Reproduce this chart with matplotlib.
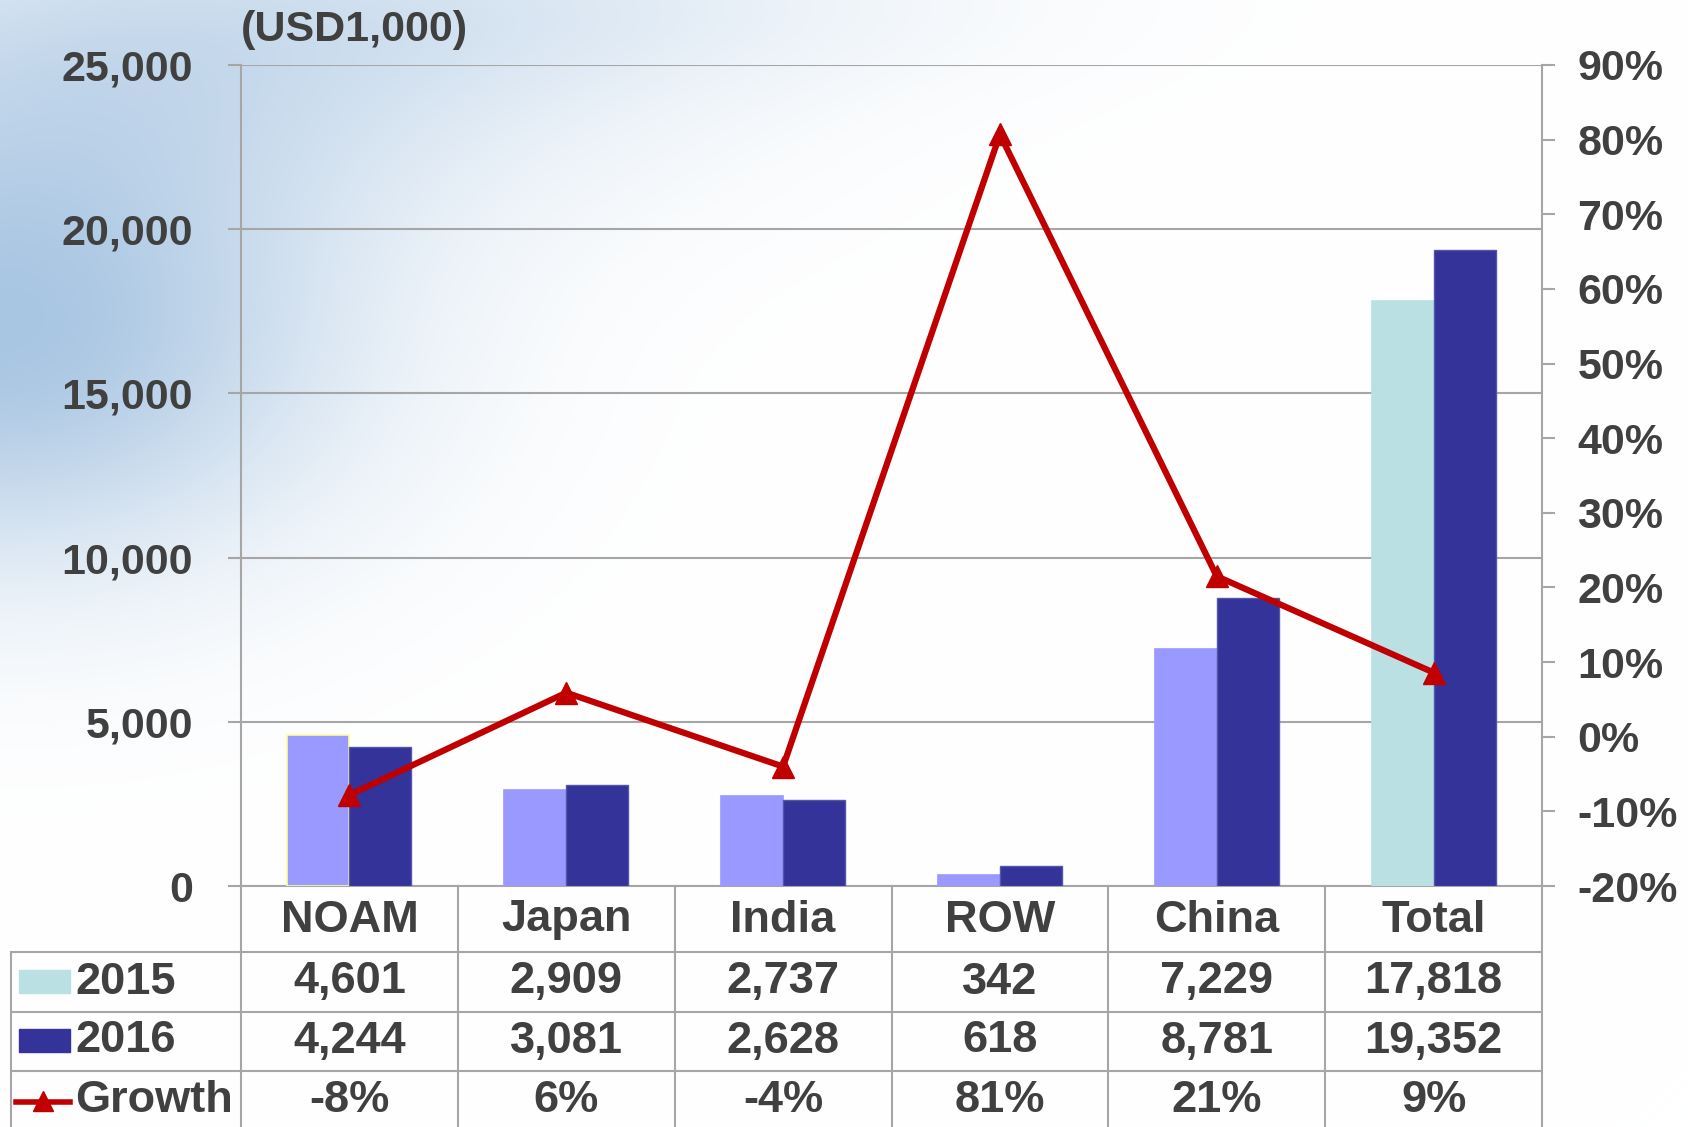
import numpy as np
import matplotlib.pyplot as plt
from matplotlib.patches import Rectangle
from matplotlib.lines import Line2D
from matplotlib.ticker import FuncFormatter, MultipleLocator

categories = ['NOAM', 'Japan', 'India', 'ROW', 'China', 'Total']
sales_2015 = [4601, 2909, 2737, 342, 7229, 17818]
sales_2016 = [4244, 3081, 2628, 618, 8781, 19352]
growth = [-7.8, 5.9, -4.0, 80.7, 21.5, 8.6]
labels_2015 = ['4,601', '2,909', '2,737', '342', '7,229', '17,818']
labels_2016 = ['4,244', '3,081', '2,628', '618', '8,781', '19,352']
labels_growth = ['-8%', '6%', '-4%', '81%', '21%', '9%']

c2015 = '#9999FF'
c2015_total = '#BBE0E3'
c2016 = '#333399'
cline = '#C00000'
txt = '#404040'
grid = '#A6A6A6'
FS_AX = 31
FS = 32.5

plt.rcParams['font.family'] = ['Liberation Sans', 'DejaVu Sans']
plt.rcParams['font.weight'] = 'bold'

W, H = 1688, 1127
fig = plt.figure(figsize=(W / 100, H / 100), dpi=100)

# soft blue backdrop in the upper left
bg = fig.add_axes([0, 0, 1, 1], zorder=-10)
yy, xx = np.mgrid[0:1:282j, 0:1:422j]
a = 0.8 * np.exp(-(xx / 0.2) ** 2 - ((yy - 0.3) / 0.2) ** 2)
a += 0.4 * np.exp(-((xx - 0.1) / 0.28) ** 2 - ((yy - 0.05) / 0.15) ** 2)
a += 0.15 * np.exp(-((xx - 0.35) / 0.25) ** 2 - (yy / 0.08) ** 2)
a = np.clip(a, 0, 1)[..., None]
blue = np.array([150, 185, 220]) / 255
img = (1 - a) * np.ones(3) + a * blue
bg.imshow(img, aspect='auto', extent=[0, 1, 0, 1], interpolation='bicubic')
bg.axis('off')

left, right, top, bottom = 241, 1542, 65, 886
ax = fig.add_axes([left / W, 1 - bottom / H, (right - left) / W, (bottom - top) / H])
ax.set_facecolor('none')

x = np.arange(len(categories))
w = 0.286
colors_2015 = [c2015] * 5 + [c2015_total]
edges_2015 = ['#FFFF99'] + colors_2015[1:]
ax.bar(x - w / 2, sales_2015, w, color=colors_2015, edgecolor=edges_2015, linewidth=1.2, zorder=3)
ax.bar(x + w / 2, sales_2016, w, color=c2016, edgecolor='#5555AA', linewidth=1, zorder=3)

ax.set_xlim(-0.5, len(categories) - 0.5)
ax.set_ylim(0, 25000)
ax.yaxis.set_major_locator(MultipleLocator(5000))
ax.yaxis.set_major_formatter(FuncFormatter(lambda v, p: f'{int(v):,}'))
ax.grid(axis='y', color=grid, linewidth=1.5, zorder=0)
ax.set_xticks([])
ax.tick_params(axis='y', length=9.5, width=1.5, color=grid, labelsize=FS_AX, labelcolor=txt, pad=25)
for s in ['top', 'right']:
    ax.spines[s].set_visible(False)
ax.spines['left'].set_color(grid)
ax.spines['left'].set_linewidth(1.5)
ax.spines['bottom'].set_color(grid)
ax.spines['bottom'].set_linewidth(1.5)

ax2 = ax.twinx()
ax2.plot(x, growth, color=cline, linewidth=4.5, marker='^', markersize=16, zorder=5)
ax2.set_ylim(-20, 90)
ax2.yaxis.set_major_locator(MultipleLocator(10))
ax2.yaxis.set_major_formatter(FuncFormatter(lambda v, p: f'{int(round(v))}%'))
ax2.tick_params(axis='y', length=9.5, width=1.5, color=grid, labelsize=FS_AX, labelcolor=txt, pad=16)
for s in ['top', 'left', 'bottom']:
    ax2.spines[s].set_visible(False)
ax2.spines['right'].set_color(grid)
ax2.spines['right'].set_linewidth(1.5)

fig.text(left / W, 1 - 30 / H, '(USD1,000)', fontsize=FS_AX, color=txt, ha='left', va='center')

# data table under the plot
tl = 11
cat_px = (right - left) / len(categories)
xmin = -0.5 - (left - tl) / cat_px
tab = fig.add_axes([tl / W, 0, (right - tl) / W, (H - bottom) / H])
tab.set_xlim(xmin, len(categories) - 0.5)
tab.set_ylim(H - bottom, 0)
tab.axis('off')
tab.set_facecolor('none')

rows = [0, 66, 126, 185, 241]
centers = [34, 96, 155, 214]
for k in range(len(categories) + 1):
    tab.plot([k - 0.5, k - 0.5], [0, 241], color=grid, lw=1.5, clip_on=False)
tab.plot([xmin, xmin], [rows[1], 241], color=grid, lw=1.5, clip_on=False)
for r in rows[1:4]:
    tab.plot([xmin, len(categories) - 0.5], [r, r], color=grid, lw=1.5)

for i, c in enumerate(categories):
    tab.text(i, centers[0], c, fontsize=FS, color=txt, ha='center', va='center')
    tab.text(i, centers[1], labels_2015[i], fontsize=FS, color=txt, ha='center', va='center')
    tab.text(i, centers[2], labels_2016[i], fontsize=FS, color=txt, ha='center', va='center')
    tab.text(i, centers[3], labels_growth[i], fontsize=FS, color=txt, ha='center', va='center')


def px2x(px):
    return -0.5 + (px - left) / cat_px


sw = px2x(70) - px2x(19)
tab.add_patch(Rectangle((px2x(19), centers[1] - 12), sw, 23, color=c2015_total))
tab.add_patch(Rectangle((px2x(19), centers[2] - 12), sw, 23, color=c2016))
tab.add_line(Line2D([px2x(16), px2x(70)], [centers[3] + 2, centers[3] + 2], color=cline, lw=4))
tab.plot([px2x(43)], [centers[3] + 1], marker='^', color=cline, markersize=14)
for r, lab in zip(centers[1:], ['2015', '2016', 'Growth']):
    tab.text(px2x(75), r, lab, fontsize=FS, color=txt, ha='left', va='center')

fig.savefig('out.png', dpi=100)
